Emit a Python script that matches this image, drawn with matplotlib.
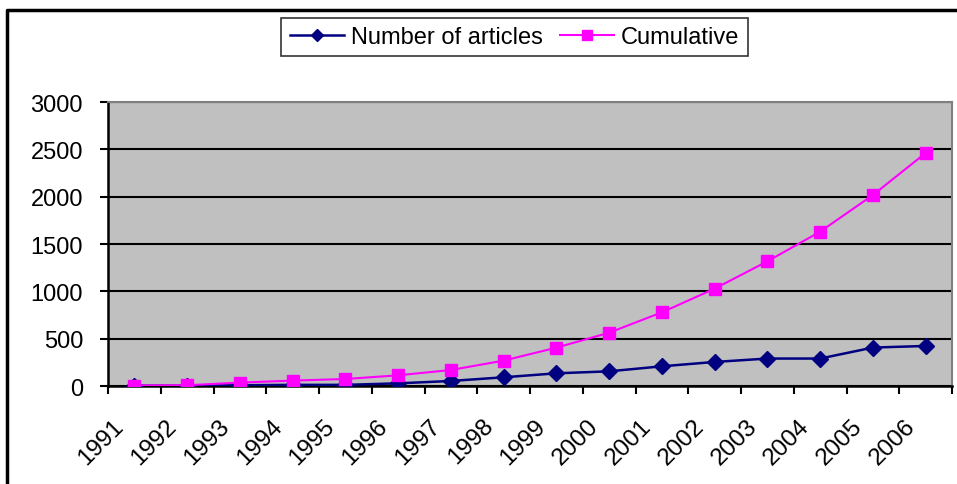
import numpy as np
import matplotlib
matplotlib.use("Agg")
import matplotlib.pyplot as plt
from matplotlib.lines import Line2D
from matplotlib.transforms import ScaledTranslation

plt.rcParams['font.family'] = ['Liberation Sans', 'DejaVu Sans']

# -------------------------------------------------------------
# Data
# -------------------------------------------------------------
years = ['1991', '1992', '1993', '1994', '1995', '1996', '1997', '1998',
         '1999', '2000', '2001', '2002', '2003', '2004', '2005', '2006']
articles = [3, 3, 8, 12, 12, 28, 53, 92, 134, 155, 208, 254, 290, 290, 406, 423]
cumulative = [5, 8, 36, 57, 74, 113, 169, 268, 405, 563, 778, 1028, 1317, 1630, 2017, 2461]
yticks = [0, 500, 1000, 1500, 2000, 2500, 3000]

W, H = 957, 485
fig = plt.figure(figsize=(W / 100, H / 100), dpi=100)
ax = fig.add_axes([108 / W, 1 - 387 / H, (952 - 108) / W, (387 - 103) / H])
ax.set_facecolor('#C0C0C0')

x = np.arange(len(years))
ax.plot(x, articles, color='#000080', lw=1.8, marker='D', ms=8,
        mec='#000080', mfc='#000080', label='Number of articles', zorder=3)
ax.plot(x, cumulative, color='#FF00FF', lw=1.5, marker='s', ms=8.5,
        mec='#FF00FF', mfc='#FF00FF', label='Cumulative', zorder=3)

ax.set_xlim(-0.5, len(years) - 0.5)
ax.set_ylim(0, 3000)
ax.set_yticks(yticks)
ax.set_yticklabels([str(v) for v in yticks])
ax.yaxis.grid(True, color='black', lw=1.5)
ax.set_axisbelow(True)

ax.set_xticks(x)
ax.set_xticklabels(years, rotation=45, ha='right', va='center',
                   rotation_mode='anchor')
ax.set_xticks(np.arange(len(years) + 1) - 0.5, minor=True)
ax.tick_params(axis='x', which='major', length=0, pad=26, labelsize=17.5)
ax.tick_params(axis='x', which='minor', length=6, width=1.5, color='black')
ax.tick_params(axis='y', length=6, width=1.5, color='black', pad=12, labelsize=17)
for lab in ax.get_xticklabels():
    lab.set_transform(lab.get_transform() + ScaledTranslation(-0.14, 0, fig.dpi_scale_trans))

for side in ['left', 'bottom']:
    ax.spines[side].set_color('black')
    ax.spines[side].set_linewidth(1.8)
for side in ['top', 'right']:
    ax.spines[side].set_color('#808080')
    ax.spines[side].set_linewidth(1.5)

leg = fig.legend(loc='center', bbox_to_anchor=(514.5 / W, 1 - 38 / H), ncol=2,
                 fontsize=17, frameon=True, fancybox=False, handlelength=2.3,
                 handletextpad=0.3, columnspacing=0.7, borderpad=0.35,
                 markerscale=0.8)
leg.get_frame().set_edgecolor('black')
leg.get_frame().set_linewidth(1.2)

# outer chart border (top and left visible)
fig.add_artist(Line2D([7 / W, 7 / W, 1], [0, 1 - 11 / H, 1 - 11 / H],
                      transform=fig.transFigure, color='black', lw=2.5))

fig.savefig('out.png', dpi=100)
